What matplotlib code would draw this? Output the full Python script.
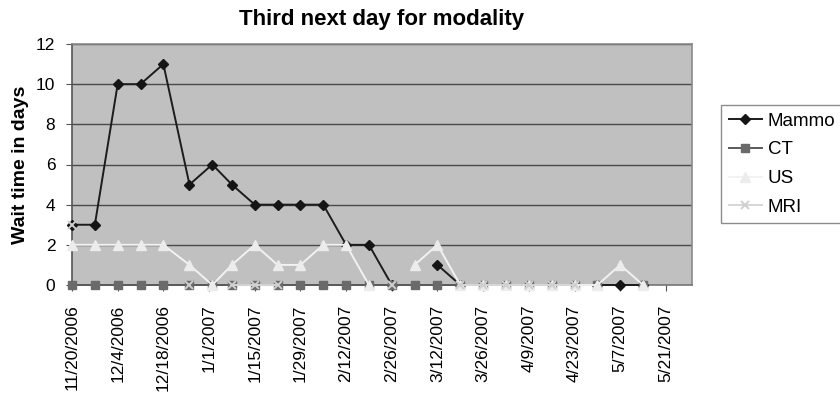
import numpy as np
import matplotlib
matplotlib.use("Agg")
import matplotlib.pyplot as plt
from datetime import datetime, timedelta

nan = np.nan

# Weekly reporting dates (holiday weeks reported a day late)
week_dates = [
    "2006-11-20", "2006-11-27", "2006-12-04", "2006-12-11", "2006-12-18",
    "2006-12-26", "2007-01-02", "2007-01-08", "2007-01-15", "2007-01-22",
    "2007-01-29", "2007-02-05", "2007-02-12", "2007-02-19", "2007-02-26",
    "2007-03-05", "2007-03-12", "2007-03-19", "2007-03-26", "2007-04-02",
    "2007-04-09", "2007-04-16", "2007-04-23", "2007-04-30", "2007-05-07",
    "2007-05-14",
]

mammo = [3, 3, 10, 10, 11, 5, 6, 5, 4, 4, 4, 4, 2, 2, 0,
         nan, 1, 0, nan, nan, nan, nan, nan, 0, 0, 0]
ct = [0, 0, 0, 0, 0, 0, 0, 0, 0, 0, 0, 0, 0, 0, 0,
      0, 0, 0, 0, 0, 0, 0, 0, 0, nan, 0]
us = [2, 2, 2, 2, 2, 1, 0, 1, 2, 1, 1, 2, 2, 0, nan,
      1, 2, 0, 0, 0, 0, 0, 0, 0, 1, 0]
mri = [3, nan, nan, nan, nan, 0, nan, 0, 0, 0, nan, nan, nan, nan, 0,
       nan, nan, 0, 0, 0, 0, 0, 0, nan, nan, nan]

tick_labels = ["11/20/2006", "12/4/2006", "12/18/2006", "1/1/2007", "1/15/2007",
               "1/29/2007", "2/12/2007", "2/26/2007", "3/12/2007", "3/26/2007",
               "4/9/2007", "4/23/2007", "5/7/2007", "5/21/2007"]

title = "Third next day for modality"
y_label = "Wait time in days"

plt.rcParams["font.family"] = ["Liberation Sans", "DejaVu Sans"]

dates = [datetime.strptime(d, "%Y-%m-%d") for d in week_dates]
tick_dates = [datetime.strptime(t, "%m/%d/%Y") for t in tick_labels]

fig = plt.figure(figsize=(8.4, 3.98), dpi=100)
fig.patch.set_facecolor("white")
ax = fig.add_axes([72 / 840, 1 - 285 / 398, 620 / 840, 241 / 398])
ax.set_facecolor("#c0c0c0")

series = [
    ("Mammo", mammo, dict(color="#1c1c1c", marker="D", ms=5.5, mfc="#151515", mec="#151515", lw=1.4)),
    ("CT", ct, dict(color="#5a5a5a", marker="s", ms=5.5, mfc="#6a6a6a", mec="#6a6a6a", lw=1.4)),
    ("US", us, dict(color="#f2f2f2", marker="^", ms=6.5, mfc="#ececec", mec="#ececec", lw=1.4)),
    ("MRI", mri, dict(color="#d6d6d6", marker="x", ms=5.5, mfc="#cfcfcf", mec="#cfcfcf", mew=1.4, lw=1.4)),
]
for name, vals, style in series:
    ax.plot(dates, np.array(vals, dtype=float), label=name, clip_on=False, zorder=3, **style)

ax.set_ylim(0, 12)
ax.set_yticks(range(0, 13, 2))
ax.yaxis.grid(True, color="#4a4a4a", lw=1.0)
ax.set_axisbelow(True)

ax.set_xlim(datetime(2006, 11, 20), datetime(2006, 11, 20) + timedelta(days=190))
ax.set_xticks(tick_dates)
ax.set_xticklabels(tick_labels, rotation=90, fontsize=12.5)
ax.tick_params(axis="y", labelsize=12.5, length=4, direction="out", color="#555555", pad=8)
ax.tick_params(axis="x", length=4, direction="out", color="#555555", pad=10)

for side in ("top", "right"):
    ax.spines[side].set_color("#8a8a8a")
    ax.spines[side].set_linewidth(1.2)
ax.spines["left"].set_color("#555555")
ax.spines["bottom"].set_color("#777777")
ax.spines["left"].set_linewidth(1.2)
ax.spines["bottom"].set_linewidth(1.2)

ax.set_ylabel(y_label, fontsize=14, fontweight="bold", labelpad=5)
fig.text((72 + 692) / 2 / 840, 1 - 19 / 398, title, ha="center", va="center",
         fontsize=16, fontweight="bold")

leg = fig.legend(loc="upper left", bbox_to_anchor=(721 / 840, 1 - 105 / 398),
                 bbox_transform=fig.transFigure, frameon=True, fancybox=False,
                 fontsize=13.5, handlelength=1.8, handletextpad=0.3,
                 labelspacing=0.62, borderpad=0.4, borderaxespad=0)
leg.get_frame().set_edgecolor("#707070")
leg.get_frame().set_linewidth(1.0)

fig.savefig("out.png", dpi=100)
